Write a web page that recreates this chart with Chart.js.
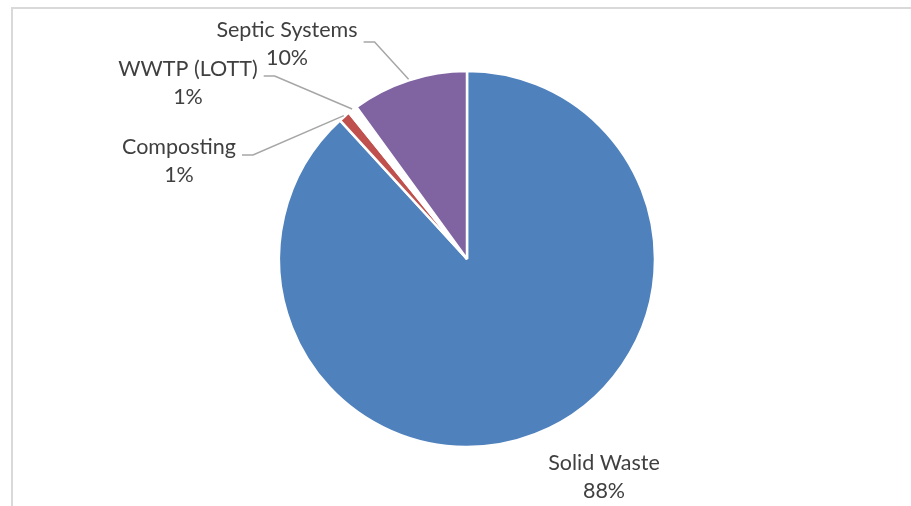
<!DOCTYPE html>
<html>
<head>
<meta charset="utf-8">
<script src="https://cdn.jsdelivr.net/npm/chart.js@4"></script>
<style>
  html, body { margin: 0; padding: 0; background: #fff; }
  #chart-container { width: 911px; height: 506px; }
</style>
</head>
<body>
<div id="chart-container"><canvas id="chart"></canvas></div>
<script>
const categories = ['Solid Waste', 'Composting', 'WWTP (LOTT)', 'Septic Systems'];
const shares = [88.2, 1.0, 0.8, 10.0];
const sliceColors = ['#4f81bd', '#c0504d', '#ffffff', '#8064a2'];

// label placement relative to pie centre, plus leader knee settings
const labelOffsets = [[137, 204], [-288, -112], [-279, -190], [-180, -229]];
const leaderDrop = [null, 8, 7, 12];

const ctx = document.getElementById('chart');
const chartWidth = 911;
const chartHeight = 506;
ctx.width = chartWidth;
ctx.height = chartHeight;

const frame = {
  id: 'frame',
  beforeDraw(chart) {
    const c = chart.ctx;
    c.save();
    c.strokeStyle = '#d9d9d9';
    c.lineWidth = 2;
    c.beginPath();
    c.moveTo(12, 506);
    c.lineTo(12, 8);
    c.lineTo(911, 8);
    c.stroke();
    c.restore();
  }
};

const excelLabels = {
  id: 'excelLabels',
  afterDatasetsDraw(chart) {
    const c = chart.ctx;
    const meta = chart.getDatasetMeta(0);
    const data = chart.data.datasets[0].data;
    const total = data.reduce((a, b) => a + b, 0);
    c.save();
    c.font = '21.5px Lato';
    c.fillStyle = '#404040';
    c.textAlign = 'center';
    c.textBaseline = 'middle';
    const lh = 28.5;
    meta.data.forEach((arc, i) => {
      const p = arc.getProps(['x', 'y', 'startAngle', 'endAngle', 'outerRadius'], true);
      const lx = p.x + labelOffsets[i][0];
      const ly = p.y + labelOffsets[i][1];
      const name = chart.data.labels[i];
      const pct = Math.round(data[i] / total * 100) + '%';
      c.fillText(name, lx, ly);
      c.fillText(pct, lx, ly + lh);
      if (leaderDrop[i] !== null) {
        const mid = (p.startAngle + p.endAngle) / 2;
        const ex = p.x + Math.cos(mid) * (p.outerRadius + 1);
        const ey = p.y + Math.sin(mid) * (p.outerRadius + 1);
        const w = c.measureText(name).width;
        const sx = lx + w / 2 + 6;
        const sy = ly + leaderDrop[i];
        c.strokeStyle = '#a6a6a6';
        c.lineWidth = 1.5;
        c.beginPath();
        c.moveTo(sx, sy);
        c.lineTo(sx + 11, sy);
        c.lineTo(ex, ey);
        c.stroke();
      }
    });
    c.restore();
  }
};

const chart = new Chart(ctx, {
  type: 'pie',
  data: {
    labels: categories,
    datasets: [{
      data: shares,
      backgroundColor: sliceColors,
      borderColor: '#ffffff',
      borderWidth: 2.5,
      radius: 188
    }]
  },
  options: {
    responsive: false,
    maintainAspectRatio: false,
    animation: false,
    layout: { padding: { top: 71, bottom: 59, left: 100, right: 77 } },
    plugins: {
      legend: { display: false },
      tooltip: { enabled: false }
    }
  },
  plugins: [frame, excelLabels]
});
</script>
</body>
</html>
